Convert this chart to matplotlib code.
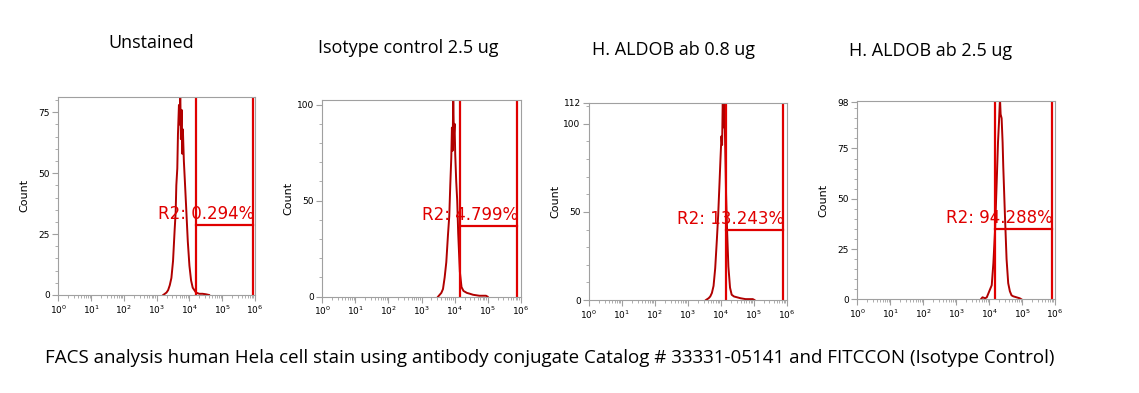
import matplotlib
matplotlib.use("Agg")
import matplotlib.pyplot as plt
from matplotlib.ticker import FixedLocator, NullFormatter, LogLocator

# panel titles and gate labels
titles = ["Unstained", "Isotype control 2.5 ug", "H. ALDOB ab 0.8 ug", "H. ALDOB ab 2.5 ug"]
gate_labels = ["R2: 0.294%", "R2: 4.799%", "R2: 13.243%", "R2: 94.288%"]

# histogram outlines: log10(fluorescence) vs count
p1_x = [3.20, 3.25, 3.30, 3.35, 3.40, 3.45, 3.50, 3.55, 3.58, 3.60, 3.63, 3.65, 3.68, 3.70, 3.72,
        3.74, 3.76, 3.78, 3.80, 3.83, 3.86, 3.90, 3.95, 4.00, 4.05, 4.10, 4.15, 4.20, 4.30, 4.40,
        4.50, 4.60]
p1_y = [0, 0.5, 1, 2, 4, 7, 14, 27, 34, 45, 52, 66, 78, 70, 84,
        64, 76, 58, 68, 55, 47, 36, 22, 12, 6, 3, 2, 1, 0.5, 0.5,
        0.3, 0]

p2_x = [3.50, 3.55, 3.60, 3.65, 3.70, 3.75, 3.80, 3.84, 3.87, 3.90, 3.92, 3.94, 3.96, 3.98,
        4.00, 4.02, 4.05, 4.08, 4.11, 4.16, 4.21, 4.27, 4.37, 4.47, 4.56, 4.75, 4.95, 5.00]
p2_y = [0, 1, 2, 4, 10, 18, 32, 42, 58, 72, 88, 76, 104, 84,
        90, 74, 60, 50, 33, 13, 5, 3, 2, 1.5, 1, 0.5, 0.5, 0]

p3_x = [3.55, 3.63, 3.68, 3.73, 3.78, 3.83, 3.88, 3.92, 3.96, 3.99, 4.02, 4.04, 4.06, 4.08,
        4.10, 4.13, 4.16, 4.19, 4.23, 4.28, 4.33, 4.40, 4.50, 4.60, 4.75, 4.97, 5.02]
p3_y = [0, 1, 2, 4, 8, 18, 34, 48, 66, 80, 93, 88, 115, 98,
        115, 91, 60, 40, 19, 7, 3, 2, 1.5, 1, 0.5, 0.5, 0]

p4_x = [3.75, 3.80, 3.88, 3.93, 3.98, 4.03, 4.08, 4.13, 4.18, 4.23, 4.27, 4.30, 4.33,
        4.35, 4.38, 4.41, 4.43, 4.48, 4.53, 4.58, 4.63, 4.68, 4.73, 4.83, 4.93, 4.98]
p4_y = [0, 1, 0.5, 1, 3, 5, 7, 18, 34, 58, 78, 88, 100,
        92, 90, 78, 66, 42, 20, 8, 4, 2, 1.5, 1, 0.5, 0]

# gates (log10 left, log10 right, count level)
gate_left = [4.19, 4.15, 4.15, 4.17]
gate_right = [5.93, 5.88, 5.88, 5.90]
gate_level = [28.7, 36.8, 39.7, 34.9]

y_max = [81.4, 102.4, 112, 98.6]
y_major = [[0, 25, 50, 75], [0, 50, 100], [0, 50, 100, 112], [0, 25, 50, 75, 98]]
y_minor_step = [5, 10, 10, 5]

hist_x = [p1_x, p2_x, p3_x, p4_x]
hist_y = [p1_y, p2_y, p3_y, p4_y]

W, H = 1139, 393
# axes boxes in pixels: x0, x1, y0 (top), y1 (bottom)
boxes = [(58.3, 255, 96.7, 295), (322.3, 520.7, 100, 296.7),
         (589, 786.7, 102.7, 300), (857.3, 1055, 101, 299.3)]
title_pos = [(151, 43), (408, 48), (673, 50), (931, 51)]

fig = plt.figure(figsize=(W / 100, H / 100), dpi=100)
gray = "#a0a0a0"
hist_col = "#b00000"
gate_col = "#e00000"

for i in range(4):
    x0, x1, y0, y1 = boxes[i]
    ax = fig.add_axes([x0 / W, 1 - y1 / H, (x1 - x0) / W, (y1 - y0) / H])
    xs = [10 ** v for v in hist_x[i]]
    ax.plot(xs, hist_y[i], color=hist_col, lw=1.4)
    ax.set_xscale("log")
    ax.set_xlim(1, 1e6)
    ax.set_ylim(0, y_max[i])

    gl, gr, gy = 10 ** gate_left[i], 10 ** gate_right[i], gate_level[i]
    ax.axvline(gl, color=gate_col, lw=1.6)
    ax.axvline(gr, color=gate_col, lw=1.6)
    ax.plot([gl, gr], [gy, gy], color=gate_col, lw=1.6)
    ax.annotate(gate_labels[i], (gr, gy), xytext=(1, 1.5), textcoords="offset points",
                ha="right", va="bottom", color=gate_col, fontsize=12, fontfamily="DejaVu Sans")

    ax.xaxis.set_major_locator(FixedLocator([10 ** k for k in range(7)]))
    ax.set_xticklabels([r"$10^{%d}$" % k for k in range(7)])
    ax.xaxis.set_minor_locator(LogLocator(base=10, subs=range(2, 10), numticks=20))
    ax.xaxis.set_minor_formatter(NullFormatter())
    ax.yaxis.set_major_locator(FixedLocator(y_major[i]))
    ax.yaxis.set_minor_locator(FixedLocator(list(range(0, int(y_max[i]) + 1, y_minor_step[i]))))
    ax.tick_params(which="major", length=4, color=gray, labelsize=6.5, pad=2)
    ax.tick_params(which="minor", length=2, color=gray)
    for s in ax.spines.values():
        s.set_color(gray)
        s.set_linewidth(0.8)
    ax.set_ylabel("Count", fontsize=8)
    ax.yaxis.set_label_coords(-0.147, 0.5)

    fig.text(title_pos[i][0] / W, 1 - title_pos[i][1] / H, titles[i], ha="center", va="center",
             fontsize=13, fontfamily="Open Sans")

fig.text(550 / W, 1 - 358 / H,
         "FACS analysis human Hela cell stain using antibody conjugate Catalog # 33331-05141 and FITCCON (Isotype Control)",
         ha="center", va="center", fontsize=13.5, fontfamily="Open Sans")

fig.savefig("out.png", dpi=100)
